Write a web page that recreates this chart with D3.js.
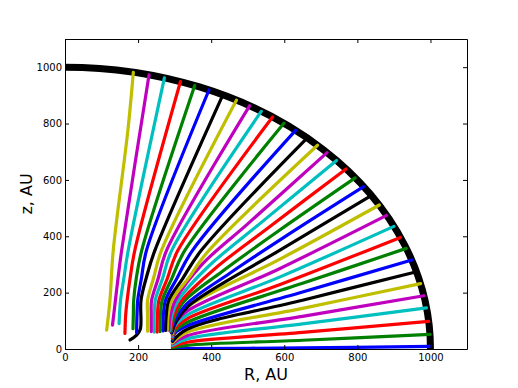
<!DOCTYPE html>
<html><head><meta charset="utf-8">
<script src="https://cdn.jsdelivr.net/npm/d3@7"></script>
<style>body{margin:0;background:#fff} text{font-family:"DejaVu Sans",sans-serif}</style>
</head><body><svg id="c" width="518" height="388"></svg>
<script>
const xTicks=[0,200,400,600,800,1000];
const yTicks=[0,200,400,600,800,1000];
const xDomain=[0,1100], yDomain=[0,1100];
const xLabel="R, AU", yLabel="z, AU";
const boundaryRadius=1000;
const colorCycle=["#0000ff","#008000","#ff0000","#00bfbf","#bf00bf","#bfbf00","#000000"];
// streamlines, bottom (index 0) to top (index 33); points are [R, z] in AU
const line00=[[294,1],[650,4],[1000,9]];
const line01=[[294,4],[334,13],[650,31],[999,52]];
const line02=[[294,9],[334,24],[650,59],[995,98]];
const line03=[[294,13],[334,36],[650,89],[989,146]];
const line04=[[294,18],[334,47],[650,116],[982,189]];
const line05=[[294,22],[334,59],[650,144],[973,232]];
const line06=[[294,27],[334,70],[650,173],[962,274]];
const line07=[[294,31],[300,55],[334,82],[650,202],[949,316]];
const line08=[[294,36],[300,62],[334,94],[650,233],[934,357]];
const line09=[[294,40],[300,70],[334,107],[587,228],[918,396]];
const line10=[[294,45],[300,80],[334,120],[587,255],[900,435]];
const line11=[[294,49],[300,88],[334,134],[587,285],[880,474]];
const line12=[[294,54],[300,98],[334,149],[587,318],[860,511]];
const line13=[[292,57],[305,100],[340,155],[587,350],[839,545]];
const line14=[[291,60],[302,105],[333,160],[450,268],[600,397],[817,576]];
const line15=[[290,62],[299,110],[325,168],[430,275],[580,415],[794,607]];
const line16=[[289,64],[296,113],[318,170],[410,285],[560,434],[769,639]];
const line17=[[287,66],[292,116],[310,173],[390,290],[540,452],[743,669]];
const line18=[[284,67],[288,118],[302,173],[375,300],[500,444],[717,697]];
const line19=[[280,67],[282,120],[292,173],[340,255],[387,340],[691,723]];
const line20=[[275,66],[277,120],[284,173],[322,250],[373,350],[663,749]];
const line21=[[268,64],[269,120],[275,173],[306,250],[349,350],[631,776]];
const line22=[[260,62],[261,120],[266,173],[292,250],[328,350],[599,801]];
const line23=[[252,60],[253,120],[257,173],[280,250],[309,350],[568,823]];
const line24=[[244,60],[244,120],[247,173],[267,250],[292,350],[537,843]];
const line25=[[236,62],[236,120],[237,173],[255,250],[278,350],[505,863]];
const line26=[[226,63],[226,120],[226,173],[242,250],[264,350],[469,883]];
const line27=[[178,32],[195,48],[206,70],[208,173],[224,260],[246,350],[432,902]];
const line28=[[196,58],[197,120],[199,173],[209,250],[223,350],[394,919]];
const line29=[[186,72],[187,120],[188,173],[195,250],[210,350],[355,935]];
const line30=[[164,55],[166,120],[170,173],[178,250],[191,350],[316,949]];
const line31=[[148,90],[152,173],[161,250],[173,350],[272,962]];
const line32=[[130,85],[138,173],[145,250],[155,350],[230,973]];
const line33=[[114,67],[123,173],[132,350],[172,775],[187,982]];
const streamlines=[line00,line01,line02,line03,line04,line05,line06,line07,line08,line09,
 line10,line11,line12,line13,line14,line15,line16,line17,line18,line19,line20,line21,line22,
 line23,line24,line25,line26,line27,line28,line29,line30,line31,line32,line33];

const W=518,H=388, m={l:65,t:39,r:51,b:39};
const svg=d3.select("#c");
const x=d3.scaleLinear().domain(xDomain).range([m.l,W-m.r]);
const y=d3.scaleLinear().domain(yDomain).range([H-m.b,m.t]);

svg.append("defs").append("clipPath").attr("id","clip").append("rect")
  .attr("x",m.l).attr("y",m.t).attr("width",W-m.l-m.r).attr("height",H-m.t-m.b);
const plot=svg.append("g").attr("clip-path","url(#clip)");

plot.append("ellipse").attr("cx",x(0)).attr("cy",y(0))
  .attr("rx",x(boundaryRadius)-x(0)).attr("ry",y(0)-y(boundaryRadius))
  .attr("fill","none").attr("stroke","#000").attr("stroke-width",7);

const lineGen=d3.line().x(d=>x(d[0])).y(d=>y(d[1])).curve(d3.curveCatmullRom.alpha(0.5));
plot.selectAll("path.s").data(streamlines).join("path").attr("class","s")
  .attr("d",lineGen).attr("fill","none")
  .attr("stroke",(d,i)=>colorCycle[i%colorCycle.length])
  .attr("stroke-width",3.2).attr("stroke-linecap","round").attr("stroke-linejoin","round");

const fs=10;
const gb=svg.append("g").attr("transform",`translate(0,${H-m.b})`)
  .call(d3.axisBottom(x).tickValues(xTicks).tickSize(-4).tickSizeOuter(0).tickPadding(5).tickFormat(d3.format("d")));
const gl=svg.append("g").attr("transform",`translate(${m.l},0)`)
  .call(d3.axisLeft(y).tickValues(yTicks).tickSize(-4).tickSizeOuter(0).tickPadding(3).tickFormat(d3.format("d")));
const gt=svg.append("g").attr("transform",`translate(0,${m.t})`)
  .call(d3.axisTop(x).tickValues(xTicks).tickSize(-4).tickSizeOuter(0).tickFormat(""));
const gr=svg.append("g").attr("transform",`translate(${W-m.r},0)`)
  .call(d3.axisRight(y).tickValues(yTicks).tickSize(-4).tickSizeOuter(0).tickFormat(""));
[gb,gl,gt,gr].forEach(g=>{g.selectAll("text").attr("font-size",fs).attr("font-family","DejaVu Sans").attr("fill","#000");
  g.selectAll("path,line").attr("stroke","#000");});

svg.append("text").attr("x",(m.l+W-m.r)/2).attr("y",380).attr("text-anchor","middle")
  .attr("font-size",16).text(xLabel);
svg.append("text").attr("transform",`translate(32,${(m.t+H-m.b)/2}) rotate(-90)`).attr("text-anchor","middle")
  .attr("font-size",16).text(yLabel);
</script></body></html>
